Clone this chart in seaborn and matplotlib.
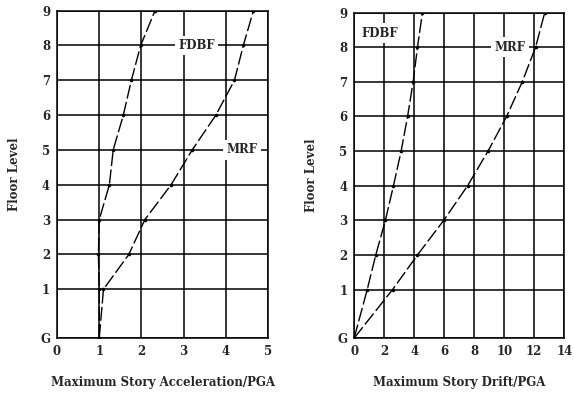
import numpy as np
import pandas as pd
import matplotlib
matplotlib.use("Agg")
import matplotlib.pyplot as plt
import seaborn as sns

floors = [0, 1, 2, 3, 4, 5, 6, 7, 8, 9]
floor_labels = ["G", "1", "2", "3", "4", "5", "6", "7", "8", "9"]

acc_fdbf = [1.0, 1.0, 0.98, 1.0, 1.24, 1.33, 1.57, 1.76, 1.98, 2.32]
acc_mrf = [1.0, 1.1, 1.7, 2.08, 2.7, 3.2, 3.76, 4.2, 4.41, 4.65]
drift_fdbf = [0.0, 0.87, 1.44, 2.08, 2.62, 3.13, 3.56, 3.93, 4.22, 4.55]
drift_mrf = [0.0, 2.56, 4.22, 5.97, 7.56, 8.92, 10.16, 11.2, 12.09, 12.7]

acc_ticks = [0, 1, 2, 3, 4, 5]
drift_ticks = [0, 2, 4, 6, 8, 10, 12, 14]

sns.set_theme(style="white")
plt.rcParams["font.family"] = ["DejaVu Serif"]
plt.rcParams["font.weight"] = "bold"

def fwd(y):
    y = np.asarray(y, dtype=float)
    return np.where(y < 1, -0.4 + 1.4 * y, y)

def inv(y):
    y = np.asarray(y, dtype=float)
    return np.where(y < 1, (y + 0.4) / 1.4, y)

fig = plt.figure(figsize=(5.74, 3.94), dpi=100)
ax1 = fig.add_axes([0.0993, 0.142, 0.368, 0.831])
ax2 = fig.add_axes([0.617, 0.142, 0.366, 0.826])

def draw(ax, fdbf, mrf, xt, xlabel, labpos):
    df = pd.DataFrame({
        "floor": floors * 2,
        "value": list(fdbf) + list(mrf),
        "system": ["FDBF"] * len(floors) + ["MRF"] * len(floors),
    })
    ax.set_yscale("function", functions=(fwd, inv))
    sns.lineplot(data=df, x="value", y="floor", hue="system", sort=False,
                 estimator=None, palette=["black", "black"], ax=ax,
                 legend=False, lw=1.0, marker="o", markersize=2.6,
                 markeredgewidth=0)
    for l in ax.lines:
        l.set_dashes((10, 2.5))
    ax.set_xlim(xt[0], xt[-1])
    ax.set_ylim(0, 9)
    ax.set_xticks(xt)
    ax.set_yticks(floors)
    ax.set_yticklabels(floor_labels)
    ax.grid(True, color="black", lw=1.1)
    ax.set_axisbelow(True)
    for s in ax.spines.values():
        s.set_color("black")
        s.set_linewidth(1.1)
    ax.tick_params(axis="both", length=0, labelsize=8.5, pad=5)
    ax.set_xlabel(xlabel, fontsize=8.5, fontweight="bold", labelpad=13)
    ax.set_ylabel("Floor Level", fontsize=8.5, fontweight="bold", labelpad=14)
    for txt, (x, y) in labpos.items():
        ax.text(x, y, txt, fontsize=8.5, fontweight="bold", ha="center",
                va="center", bbox=dict(facecolor="white", edgecolor="none",
                                       pad=2.5))

draw(ax1, acc_fdbf, acc_mrf, acc_ticks, "Maximum Story Acceleration/PGA",
     {"FDBF": (3.3, 8.0), "MRF": (4.38, 5.0)})
draw(ax2, drift_fdbf, drift_mrf, drift_ticks, "Maximum Story Drift/PGA",
     {"FDBF": (1.7, 8.4), "MRF": (10.4, 8.0)})

fig.savefig("out.png", dpi=100, facecolor="white")
